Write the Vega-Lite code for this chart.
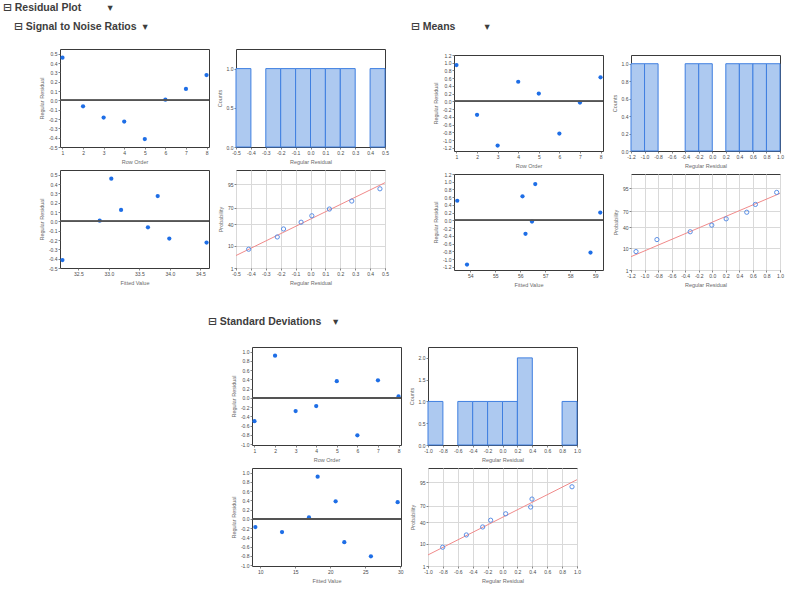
{
  "$schema": "https://vega.github.io/schema/vega-lite/v6.json",
  "padding": {"left": 3, "top": 3, "right": 5, "bottom": 5},
  "title": {"text": "\u229f Residual Plot\u00a0\u00a0\u00a0\u00a0\u00a0\u00a0\u00a0\u00a0\u00a0\u25be", "dx": -57, "offset": 7.5},
  "datasets": {
    "res": [
      {"g": "sn", "row": 1, "fit": 33.04, "r": 0.457},
      {"g": "sn", "row": 2, "fit": 33.64, "r": -0.064},
      {"g": "sn", "row": 3, "fit": 33.99, "r": -0.184},
      {"g": "sn", "row": 4, "fit": 34.6, "r": -0.227},
      {"g": "sn", "row": 5, "fit": 32.24, "r": -0.415},
      {"g": "sn", "row": 6, "fit": 32.85, "r": 0.007},
      {"g": "sn", "row": 7, "fit": 33.2, "r": 0.122},
      {"g": "sn", "row": 8, "fit": 33.8, "r": 0.271},
      {"g": "mean", "row": 1, "fit": 56.6, "r": 0.941},
      {"g": "mean", "row": 2, "fit": 56.21, "r": -0.345},
      {"g": "mean", "row": 3, "fit": 53.87, "r": -1.14},
      {"g": "mean", "row": 4, "fit": 53.48, "r": 0.509},
      {"g": "mean", "row": 5, "fit": 59.2, "r": 0.205},
      {"g": "mean", "row": 6, "fit": 58.81, "r": -0.829},
      {"g": "mean", "row": 7, "fit": 56.47, "r": -0.03},
      {"g": "mean", "row": 8, "fit": 56.09, "r": 0.622},
      {"g": "sd", "row": 1, "fit": 22.0, "r": -0.505},
      {"g": "sd", "row": 2, "fit": 18.19, "r": 0.911},
      {"g": "sd", "row": 3, "fit": 13.1, "r": -0.285},
      {"g": "sd", "row": 4, "fit": 9.29, "r": -0.178},
      {"g": "sd", "row": 5, "fit": 29.62, "r": 0.36},
      {"g": "sd", "row": 6, "fit": 25.8, "r": -0.811},
      {"g": "sd", "row": 7, "fit": 20.76, "r": 0.38},
      {"g": "sd", "row": 8, "fit": 16.95, "r": 0.03}
    ],
    "hist": [
      {"g": "sn", "lo": -0.5, "hi": -0.4, "n": 1},
      {"g": "sn", "lo": -0.3, "hi": -0.2, "n": 1},
      {"g": "sn", "lo": -0.2, "hi": -0.1, "n": 1},
      {"g": "sn", "lo": -0.1, "hi": 0.0, "n": 1},
      {"g": "sn", "lo": 0.0, "hi": 0.1, "n": 1},
      {"g": "sn", "lo": 0.1, "hi": 0.2, "n": 1},
      {"g": "sn", "lo": 0.2, "hi": 0.3, "n": 1},
      {"g": "sn", "lo": 0.4, "hi": 0.5, "n": 1},
      {"g": "mean", "lo": -1.2, "hi": -1.0, "n": 1},
      {"g": "mean", "lo": -1.0, "hi": -0.8, "n": 1},
      {"g": "mean", "lo": -0.4, "hi": -0.2, "n": 1},
      {"g": "mean", "lo": -0.2, "hi": 0.0, "n": 1},
      {"g": "mean", "lo": 0.2, "hi": 0.4, "n": 1},
      {"g": "mean", "lo": 0.4, "hi": 0.6, "n": 1},
      {"g": "mean", "lo": 0.6, "hi": 0.8, "n": 1},
      {"g": "mean", "lo": 0.8, "hi": 1.0, "n": 1},
      {"g": "sd", "lo": -1.0, "hi": -0.8, "n": 1},
      {"g": "sd", "lo": -0.6, "hi": -0.4, "n": 1},
      {"g": "sd", "lo": -0.4, "hi": -0.2, "n": 1},
      {"g": "sd", "lo": -0.2, "hi": 0.0, "n": 1},
      {"g": "sd", "lo": 0.0, "hi": 0.2, "n": 1},
      {"g": "sd", "lo": 0.2, "hi": 0.4, "n": 2},
      {"g": "sd", "lo": 0.8, "hi": 1.0, "n": 1}
    ],
    "prob": [
      {"g": "sn", "r": -0.415, "z": -1.434},
      {"g": "sn", "r": -0.223, "z": -0.852},
      {"g": "sn", "r": -0.181, "z": -0.473},
      {"g": "sn", "r": -0.063, "z": -0.153},
      {"g": "sn", "r": 0.009, "z": 0.153},
      {"g": "sn", "r": 0.127, "z": 0.473},
      {"g": "sn", "r": 0.277, "z": 0.852},
      {"g": "sn", "r": 0.466, "z": 1.434},
      {"g": "mean", "r": -1.126, "z": -1.434},
      {"g": "mean", "r": -0.817, "z": -0.852},
      {"g": "mean", "r": -0.326, "z": -0.473},
      {"g": "mean", "r": -0.007, "z": -0.153},
      {"g": "mean", "r": 0.205, "z": 0.153},
      {"g": "mean", "r": 0.509, "z": 0.473},
      {"g": "mean", "r": 0.637, "z": 0.852},
      {"g": "mean", "r": 0.951, "z": 1.434},
      {"g": "sd", "r": -0.803, "z": -1.434},
      {"g": "sd", "r": -0.485, "z": -0.852},
      {"g": "sd", "r": -0.266, "z": -0.473},
      {"g": "sd", "r": -0.159, "z": -0.153},
      {"g": "sd", "r": 0.043, "z": 0.153},
      {"g": "sd", "r": 0.378, "z": 0.473},
      {"g": "sd", "r": 0.396, "z": 0.852},
      {"g": "sd", "r": 0.933, "z": 1.434}
    ],
    "fitline": [
      {"g": "sn", "r": -0.5, "z": -1.734},
      {"g": "sn", "r": 0.5, "z": 1.725},
      {"g": "mean", "r": -1.2, "z": -1.68},
      {"g": "mean", "r": 1.0, "z": 1.387},
      {"g": "sd", "r": -1.0, "z": -1.8},
      {"g": "sd", "r": 1.0, "z": 1.772}
    ]
  },
  "bounds": "flush",
  "spacing": 0,
  "vconcat": [
    {
      "bounds": "flush", "spacing": 27,
      "hconcat": [
        {
          "title": {"text": "\u229f Signal to Noise Ratios\u00a0\u00a0\u25be", "dx": -46, "offset": 17},
          "width": 149, "height": 98,
          "data": {"name": "res"},
          "transform": [{"filter": "datum.g === 'sn'"}],
          "layer": [
            {"mark": {"type": "circle", "color": "#1e6ee6", "size": 18, "opacity": 1},
             "encoding": {
               "x": {"field": "row", "type": "quantitative", "scale": {"domain": [0.88, 8.12], "nice": false, "zero": false}, "axis": {"title": "Row Order", "values": [1, 2, 3, 4, 5, 6, 7, 8], "format": "d"}},
               "y": {"field": "r", "type": "quantitative", "scale": {"domain": [-0.5, 0.55], "nice": false, "zero": false}, "axis": {"title": "Regular Residual", "values": [-0.5, -0.4, -0.3, -0.2, -0.1, 0, 0.1, 0.2, 0.3, 0.4, 0.5], "labelExpr": "replace(format(datum.value,'.1f'),'\u2212','-')"}}
             }},
            {"mark": {"type": "rule", "color": "#555555", "strokeWidth": 1.2}, "encoding": {"y": {"datum": 0, "type": "quantitative"}}}
          ]
        },
        {
          "width": 149, "height": 98,
          "data": {"name": "hist"},
          "transform": [{"filter": "datum.g === 'sn'"}],
          "mark": {"type": "rect", "fill": "#adc9f0", "stroke": "#3f7fe0", "strokeWidth": 1},
          "encoding": {
            "x": {"field": "lo", "type": "quantitative", "scale": {"domain": [-0.5, 0.5], "nice": false, "zero": false}, "axis": {"title": "Regular Residual", "values": [-0.5, -0.4, -0.3, -0.2, -0.1, 0, 0.1, 0.2, 0.3, 0.4, 0.5], "labelExpr": "replace(format(datum.value,'.1f'),'\u2212','-')"}},
            "x2": {"field": "hi"},
            "y": {"field": "n", "type": "quantitative", "scale": {"domain": [0, 1.25], "nice": false}, "axis": {"title": "Counts", "values": [0, 0.5, 1], "format": ".1f"}},
            "y2": {"datum": 0}
          }
        }
      ]
    },
    {"width": 1, "height": 6, "data": {"values": []}, "mark": "point", "view": {"stroke": null}},
    {
      "bounds": "flush", "spacing": 28,
      "hconcat": [
        {"width": 366, "height": 1, "data": {"values": []}, "mark": "point", "view": {"stroke": null}},
        {
          "title": {"text": "\u229f Means\u00a0\u00a0\u00a0\u00a0\u00a0\u00a0\u00a0\u00a0\u00a0\u00a0\u25be", "dx": -43, "offset": 20.2},
          "width": 149, "height": 96,
          "data": {"name": "res"},
          "transform": [{"filter": "datum.g === 'mean'"}],
          "layer": [
            {"mark": {"type": "circle", "color": "#1e6ee6", "size": 18, "opacity": 1},
             "encoding": {
               "x": {"field": "row", "type": "quantitative", "scale": {"domain": [0.88, 8.12], "nice": false, "zero": false}, "axis": {"title": "Row Order", "values": [1, 2, 3, 4, 5, 6, 7, 8], "format": "d"}},
               "y": {"field": "r", "type": "quantitative", "scale": {"domain": [-1.28, 1.2], "nice": false, "zero": false}, "axis": {"title": "Regular Residual", "values": [-1.2, -1, -0.8, -0.6, -0.4, -0.2, 0, 0.2, 0.4, 0.6, 0.8, 1, 1.2], "labelExpr": "replace(format(datum.value,'.1f'),'\u2212','-')"}}
             }},
            {"mark": {"type": "rule", "color": "#555555", "strokeWidth": 1.2}, "encoding": {"y": {"datum": 0, "type": "quantitative"}}}
          ]
        },
        {
          "width": 149, "height": 96,
          "data": {"name": "hist"},
          "transform": [{"filter": "datum.g === 'mean'"}],
          "mark": {"type": "rect", "fill": "#adc9f0", "stroke": "#3f7fe0", "strokeWidth": 1},
          "encoding": {
            "x": {"field": "lo", "type": "quantitative", "scale": {"domain": [-1.2, 1.0], "nice": false, "zero": false}, "axis": {"title": "Regular Residual", "values": [-1.2, -1, -0.8, -0.6, -0.4, -0.2, 0, 0.2, 0.4, 0.6, 0.8, 1], "labelExpr": "replace(format(datum.value,'.1f'),'\u2212','-')"}},
            "x2": {"field": "hi"},
            "y": {"field": "n", "type": "quantitative", "scale": {"domain": [0, 1.1], "nice": false}, "axis": {"title": "Counts", "values": [0, 0.2, 0.4, 0.6, 0.8, 1], "format": ".1f"}},
            "y2": {"datum": 0}
          }
        }
      ]
    },
    {"width": 1, "height": 115, "data": {"values": []}, "mark": "point", "view": {"stroke": null}},
    {
      "bounds": "flush", "spacing": 27,
      "hconcat": [
        {
          "width": 149, "height": 98,
          "data": {"name": "res"},
          "transform": [{"filter": "datum.g === 'sn'"}],
          "layer": [
            {"mark": {"type": "circle", "color": "#1e6ee6", "size": 18, "opacity": 1},
             "encoding": {
               "x": {"field": "fit", "type": "quantitative", "scale": {"domain": [32.2, 34.64], "nice": false, "zero": false}, "axis": {"title": "Fitted Value", "values": [32.5, 33, 33.5, 34, 34.5], "format": ".1f"}},
               "y": {"field": "r", "type": "quantitative", "scale": {"domain": [-0.5, 0.55], "nice": false, "zero": false}, "axis": {"title": "Regular Residual", "values": [-0.5, -0.4, -0.3, -0.2, -0.1, 0, 0.1, 0.2, 0.3, 0.4, 0.5], "labelExpr": "replace(format(datum.value,'.1f'),'\u2212','-')"}}
             }},
            {"mark": {"type": "rule", "color": "#555555", "strokeWidth": 1.2}, "encoding": {"y": {"datum": 0, "type": "quantitative"}}}
          ]
        },
        {
          "width": 149, "height": 98,
          "layer": [
            {"data": {"name": "fitline"}, "transform": [{"filter": "datum.g === 'sn'"}],
             "mark": {"type": "line", "color": "#f08a8a", "strokeWidth": 1},
             "encoding": {
               "x": {"field": "r", "type": "quantitative", "scale": {"domain": [-0.5, 0.5], "nice": false, "zero": false}, "axis": {"title": "Regular Residual", "grid": true, "gridColor": "#d9d9d9", "values": [-0.5, -0.4, -0.3, -0.2, -0.1, 0, 0.1, 0.2, 0.3, 0.4, 0.5], "labelExpr": "replace(format(datum.value,'.1f'),'\u2212','-')"}},
               "y": {"field": "z", "type": "quantitative", "scale": {"domain": [-2.3263, 2.3263], "nice": false, "zero": false}, "axis": {"title": "Probability", "grid": true, "gridColor": "#d9d9d9", "values": [-2.3263, -1.2816, -0.2533, 0.5244, 1.6449], "labelExpr": "datum.value < -2 ? '1' : datum.value < -1 ? '10' : datum.value < 0 ? '40' : datum.value < 1 ? '70' : '95'"}}
             }},
            {"data": {"name": "prob"}, "transform": [{"filter": "datum.g === 'sn'"}],
             "mark": {"type": "point", "shape": "circle", "filled": false, "color": "#5b8fe6", "size": 18, "strokeWidth": 1, "opacity": 1},
             "encoding": {"x": {"field": "r", "type": "quantitative"}, "y": {"field": "z", "type": "quantitative"}}}
          ]
        }
      ]
    },
    {"width": 1, "height": 4, "data": {"values": []}, "mark": "point", "view": {"stroke": null}},
    {
      "bounds": "flush", "spacing": 28,
      "hconcat": [
        {"width": 366, "height": 1, "data": {"values": []}, "mark": "point", "view": {"stroke": null}},
        {
          "width": 149, "height": 96,
          "data": {"name": "res"},
          "transform": [{"filter": "datum.g === 'mean'"}],
          "layer": [
            {"mark": {"type": "circle", "color": "#1e6ee6", "size": 18, "opacity": 1},
             "encoding": {
               "x": {"field": "fit", "type": "quantitative", "scale": {"domain": [53.35, 59.31], "nice": false, "zero": false}, "axis": {"title": "Fitted Value", "values": [54, 55, 56, 57, 58, 59], "format": "d"}},
               "y": {"field": "r", "type": "quantitative", "scale": {"domain": [-1.28, 1.2], "nice": false, "zero": false}, "axis": {"title": "Regular Residual", "values": [-1.2, -1, -0.8, -0.6, -0.4, -0.2, 0, 0.2, 0.4, 0.6, 0.8, 1, 1.2], "labelExpr": "replace(format(datum.value,'.1f'),'\u2212','-')"}}
             }},
            {"mark": {"type": "rule", "color": "#555555", "strokeWidth": 1.2}, "encoding": {"y": {"datum": 0, "type": "quantitative"}}}
          ]
        },
        {
          "width": 149, "height": 96,
          "layer": [
            {"data": {"name": "fitline"}, "transform": [{"filter": "datum.g === 'mean'"}],
             "mark": {"type": "line", "color": "#f08a8a", "strokeWidth": 1},
             "encoding": {
               "x": {"field": "r", "type": "quantitative", "scale": {"domain": [-1.2, 1.0], "nice": false, "zero": false}, "axis": {"title": "Regular Residual", "grid": true, "gridColor": "#d9d9d9", "values": [-1.2, -1, -0.8, -0.6, -0.4, -0.2, 0, 0.2, 0.4, 0.6, 0.8, 1], "labelExpr": "replace(format(datum.value,'.1f'),'\u2212','-')"}},
               "y": {"field": "z", "type": "quantitative", "scale": {"domain": [-2.3263, 2.3263], "nice": false, "zero": false}, "axis": {"title": "Probability", "grid": true, "gridColor": "#d9d9d9", "values": [-2.3263, -1.2816, -0.2533, 0.5244, 1.6449], "labelExpr": "datum.value < -2 ? '1' : datum.value < -1 ? '10' : datum.value < 0 ? '40' : datum.value < 1 ? '70' : '95'"}}
             }},
            {"data": {"name": "prob"}, "transform": [{"filter": "datum.g === 'mean'"}],
             "mark": {"type": "point", "shape": "circle", "filled": false, "color": "#5b8fe6", "size": 18, "strokeWidth": 1, "opacity": 1},
             "encoding": {"x": {"field": "r", "type": "quantitative"}, "y": {"field": "z", "type": "quantitative"}}}
          ]
        }
      ]
    },
    {"width": 1, "height": 173, "data": {"values": []}, "mark": "point", "view": {"stroke": null}},
    {
      "bounds": "flush", "spacing": 27,
      "hconcat": [
        {"width": 165, "height": 1, "data": {"values": []}, "mark": "point", "view": {"stroke": null}},
        {
          "title": {"text": "\u229f Standard Deviations\u00a0\u00a0\u00a0\u00a0\u25be", "dx": -44, "offset": 19.7},
          "width": 149, "height": 98,
          "data": {"name": "res"},
          "transform": [{"filter": "datum.g === 'sd'"}],
          "layer": [
            {"mark": {"type": "circle", "color": "#1e6ee6", "size": 18, "opacity": 1},
             "encoding": {
               "x": {"field": "row", "type": "quantitative", "scale": {"domain": [0.88, 8.12], "nice": false, "zero": false}, "axis": {"title": "Row Order", "values": [1, 2, 3, 4, 5, 6, 7, 8], "format": "d"}},
               "y": {"field": "r", "type": "quantitative", "scale": {"domain": [-1.02, 1.1], "nice": false, "zero": false}, "axis": {"title": "Regular Residual", "values": [-1, -0.8, -0.6, -0.4, -0.2, 0, 0.2, 0.4, 0.6, 0.8, 1], "labelExpr": "replace(format(datum.value,'.1f'),'\u2212','-')"}}
             }},
            {"mark": {"type": "rule", "color": "#555555", "strokeWidth": 1.2}, "encoding": {"y": {"datum": 0, "type": "quantitative"}}}
          ]
        },
        {
          "width": 149, "height": 98,
          "data": {"name": "hist"},
          "transform": [{"filter": "datum.g === 'sd'"}],
          "mark": {"type": "rect", "fill": "#adc9f0", "stroke": "#3f7fe0", "strokeWidth": 1},
          "encoding": {
            "x": {"field": "lo", "type": "quantitative", "scale": {"domain": [-1.0, 1.0], "nice": false, "zero": false}, "axis": {"title": "Regular Residual", "values": [-1, -0.8, -0.6, -0.4, -0.2, 0, 0.2, 0.4, 0.6, 0.8, 1], "labelExpr": "replace(format(datum.value,'.1f'),'\u2212','-')"}},
            "x2": {"field": "hi"},
            "y": {"field": "n", "type": "quantitative", "scale": {"domain": [0, 2.25], "nice": false}, "axis": {"title": "Counts", "values": [0, 0.5, 1, 1.5, 2], "format": ".1f"}},
            "y2": {"datum": 0}
          }
        }
      ]
    },
    {"width": 1, "height": 121, "data": {"values": []}, "mark": "point", "view": {"stroke": null}},
    {
      "bounds": "flush", "spacing": 27,
      "hconcat": [
        {"width": 165, "height": 1, "data": {"values": []}, "mark": "point", "view": {"stroke": null}},
        {
          "width": 149, "height": 98,
          "data": {"name": "res"},
          "transform": [{"filter": "datum.g === 'sd'"}],
          "layer": [
            {"mark": {"type": "circle", "color": "#1e6ee6", "size": 18, "opacity": 1},
             "encoding": {
               "x": {"field": "fit", "type": "quantitative", "scale": {"domain": [8.81, 30.1], "nice": false, "zero": false}, "axis": {"title": "Fitted Value", "values": [10, 15, 20, 25, 30], "format": "d"}},
               "y": {"field": "r", "type": "quantitative", "scale": {"domain": [-1.02, 1.1], "nice": false, "zero": false}, "axis": {"title": "Regular Residual", "values": [-1, -0.8, -0.6, -0.4, -0.2, 0, 0.2, 0.4, 0.6, 0.8, 1], "labelExpr": "replace(format(datum.value,'.1f'),'\u2212','-')"}}
             }},
            {"mark": {"type": "rule", "color": "#555555", "strokeWidth": 1.2}, "encoding": {"y": {"datum": 0, "type": "quantitative"}}}
          ]
        },
        {
          "width": 149, "height": 98,
          "layer": [
            {"data": {"name": "fitline"}, "transform": [{"filter": "datum.g === 'sd'"}],
             "mark": {"type": "line", "color": "#f08a8a", "strokeWidth": 1},
             "encoding": {
               "x": {"field": "r", "type": "quantitative", "scale": {"domain": [-1.0, 1.0], "nice": false, "zero": false}, "axis": {"title": "Regular Residual", "grid": true, "gridColor": "#d9d9d9", "values": [-1, -0.8, -0.6, -0.4, -0.2, 0, 0.2, 0.4, 0.6, 0.8, 1], "labelExpr": "replace(format(datum.value,'.1f'),'\u2212','-')"}},
               "y": {"field": "z", "type": "quantitative", "scale": {"domain": [-2.3263, 2.3263], "nice": false, "zero": false}, "axis": {"title": "Probability", "grid": true, "gridColor": "#d9d9d9", "values": [-2.3263, -1.2816, -0.2533, 0.5244, 1.6449], "labelExpr": "datum.value < -2 ? '1' : datum.value < -1 ? '10' : datum.value < 0 ? '40' : datum.value < 1 ? '70' : '95'"}}
             }},
            {"data": {"name": "prob"}, "transform": [{"filter": "datum.g === 'sd'"}],
             "mark": {"type": "point", "shape": "circle", "filled": false, "color": "#5b8fe6", "size": 18, "strokeWidth": 1, "opacity": 1},
             "encoding": {"x": {"field": "r", "type": "quantitative"}, "y": {"field": "z", "type": "quantitative"}}}
          ]
        }
      ]
    }
  ],
  "config": {
    "view": {"stroke": "#3a3a3a", "strokeWidth": 1},
    "axis": {"domain": false, "grid": false, "tickCount": 50, "labelFont": "Liberation Sans", "labelFontSize": 5, "labelColor": "#4a4a4a", "titleFont": "Liberation Sans", "titleFontSize": 5.5, "titleFontWeight": "normal", "titleColor": "#6a6a6a", "tickSize": 2, "tickColor": "#666666", "tickWidth": 0.8, "labelPadding": 1, "titlePadding": 4, "labelOverlap": false, "labelFlush": false, "labelBound": false},
    "title": {"font": "Liberation Sans, DejaVu Sans", "fontSize": 10.5, "fontWeight": "bold", "color": "#3d3d3d", "anchor": "start", "frame": "group", "baseline": "alphabetic"}
  }
}
